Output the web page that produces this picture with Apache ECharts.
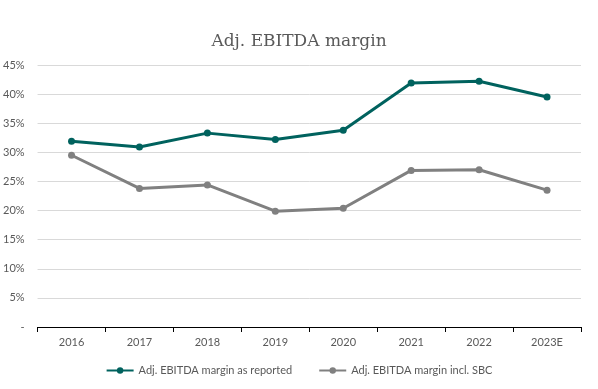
<!DOCTYPE html>
<html><head><meta charset="utf-8">
<script src="https://cdn.jsdelivr.net/npm/echarts@6/dist/echarts.min.js"></script>
<style>html,body{margin:0;padding:0;background:#fff}#c{width:598px;height:389px}</style>
</head><body><div id="c"></div>
<script>
var categories = ['2016','2017','2018','2019','2020','2021','2022','2023E'];
var reported = [31.9, 30.9, 33.3, 32.2, 33.8, 41.9, 42.2, 39.5];
var inclSBC = [29.5, 23.8, 24.4, 19.9, 20.4, 26.9, 27.0, 23.5];
var seriesNames = ['Adj. EBITDA margin as reported', 'Adj. EBITDA margin incl. SBC'];

var chart = echarts.init(document.getElementById('c'));
var lab = {color:'#595959', fontFamily:'Lato', fontSize:11};
chart.setOption({
  animation:false,
  title:{text:'Adj. EBITDA margin', left:'center', top:28,
    textStyle:{fontFamily:'DejaVu Serif', fontWeight:'normal', fontSize:17, color:'#595959'}},
  grid:{left:37, right:17, top:65, bottom:62},
  legend:{bottom:8, left:'center', itemWidth:27, itemHeight:8, itemGap:26,
    textStyle:{color:'#595959', fontFamily:'Lato', fontSize:11},
    data:seriesNames},
  xAxis:{type:'category', data:categories, boundaryGap:true,
    axisLine:{lineStyle:{color:'#000', width:1}},
    axisTick:{show:true, inside:false, length:5, lineStyle:{color:'#000'}},
    axisLabel:Object.assign({margin:10}, lab)},
  yAxis:{type:'value', min:0, max:45, interval:5,
    axisLine:{show:false}, axisTick:{show:false},
    splitLine:{lineStyle:{color:'#d9d9d9'}},
    axisLabel:Object.assign({margin:13, formatter:function(v){return v===0?'-':v+'%';}}, lab)},
  series:[
    {name:seriesNames[0], type:'line', data:reported, symbol:'circle', symbolSize:7,
     lineStyle:{color:'#00625e', width:3}, itemStyle:{color:'#00625e'}},
    {name:seriesNames[1], type:'line', data:inclSBC, symbol:'circle', symbolSize:7,
     lineStyle:{color:'#808080', width:3}, itemStyle:{color:'#808080'}}
  ]
});
</script></body></html>
